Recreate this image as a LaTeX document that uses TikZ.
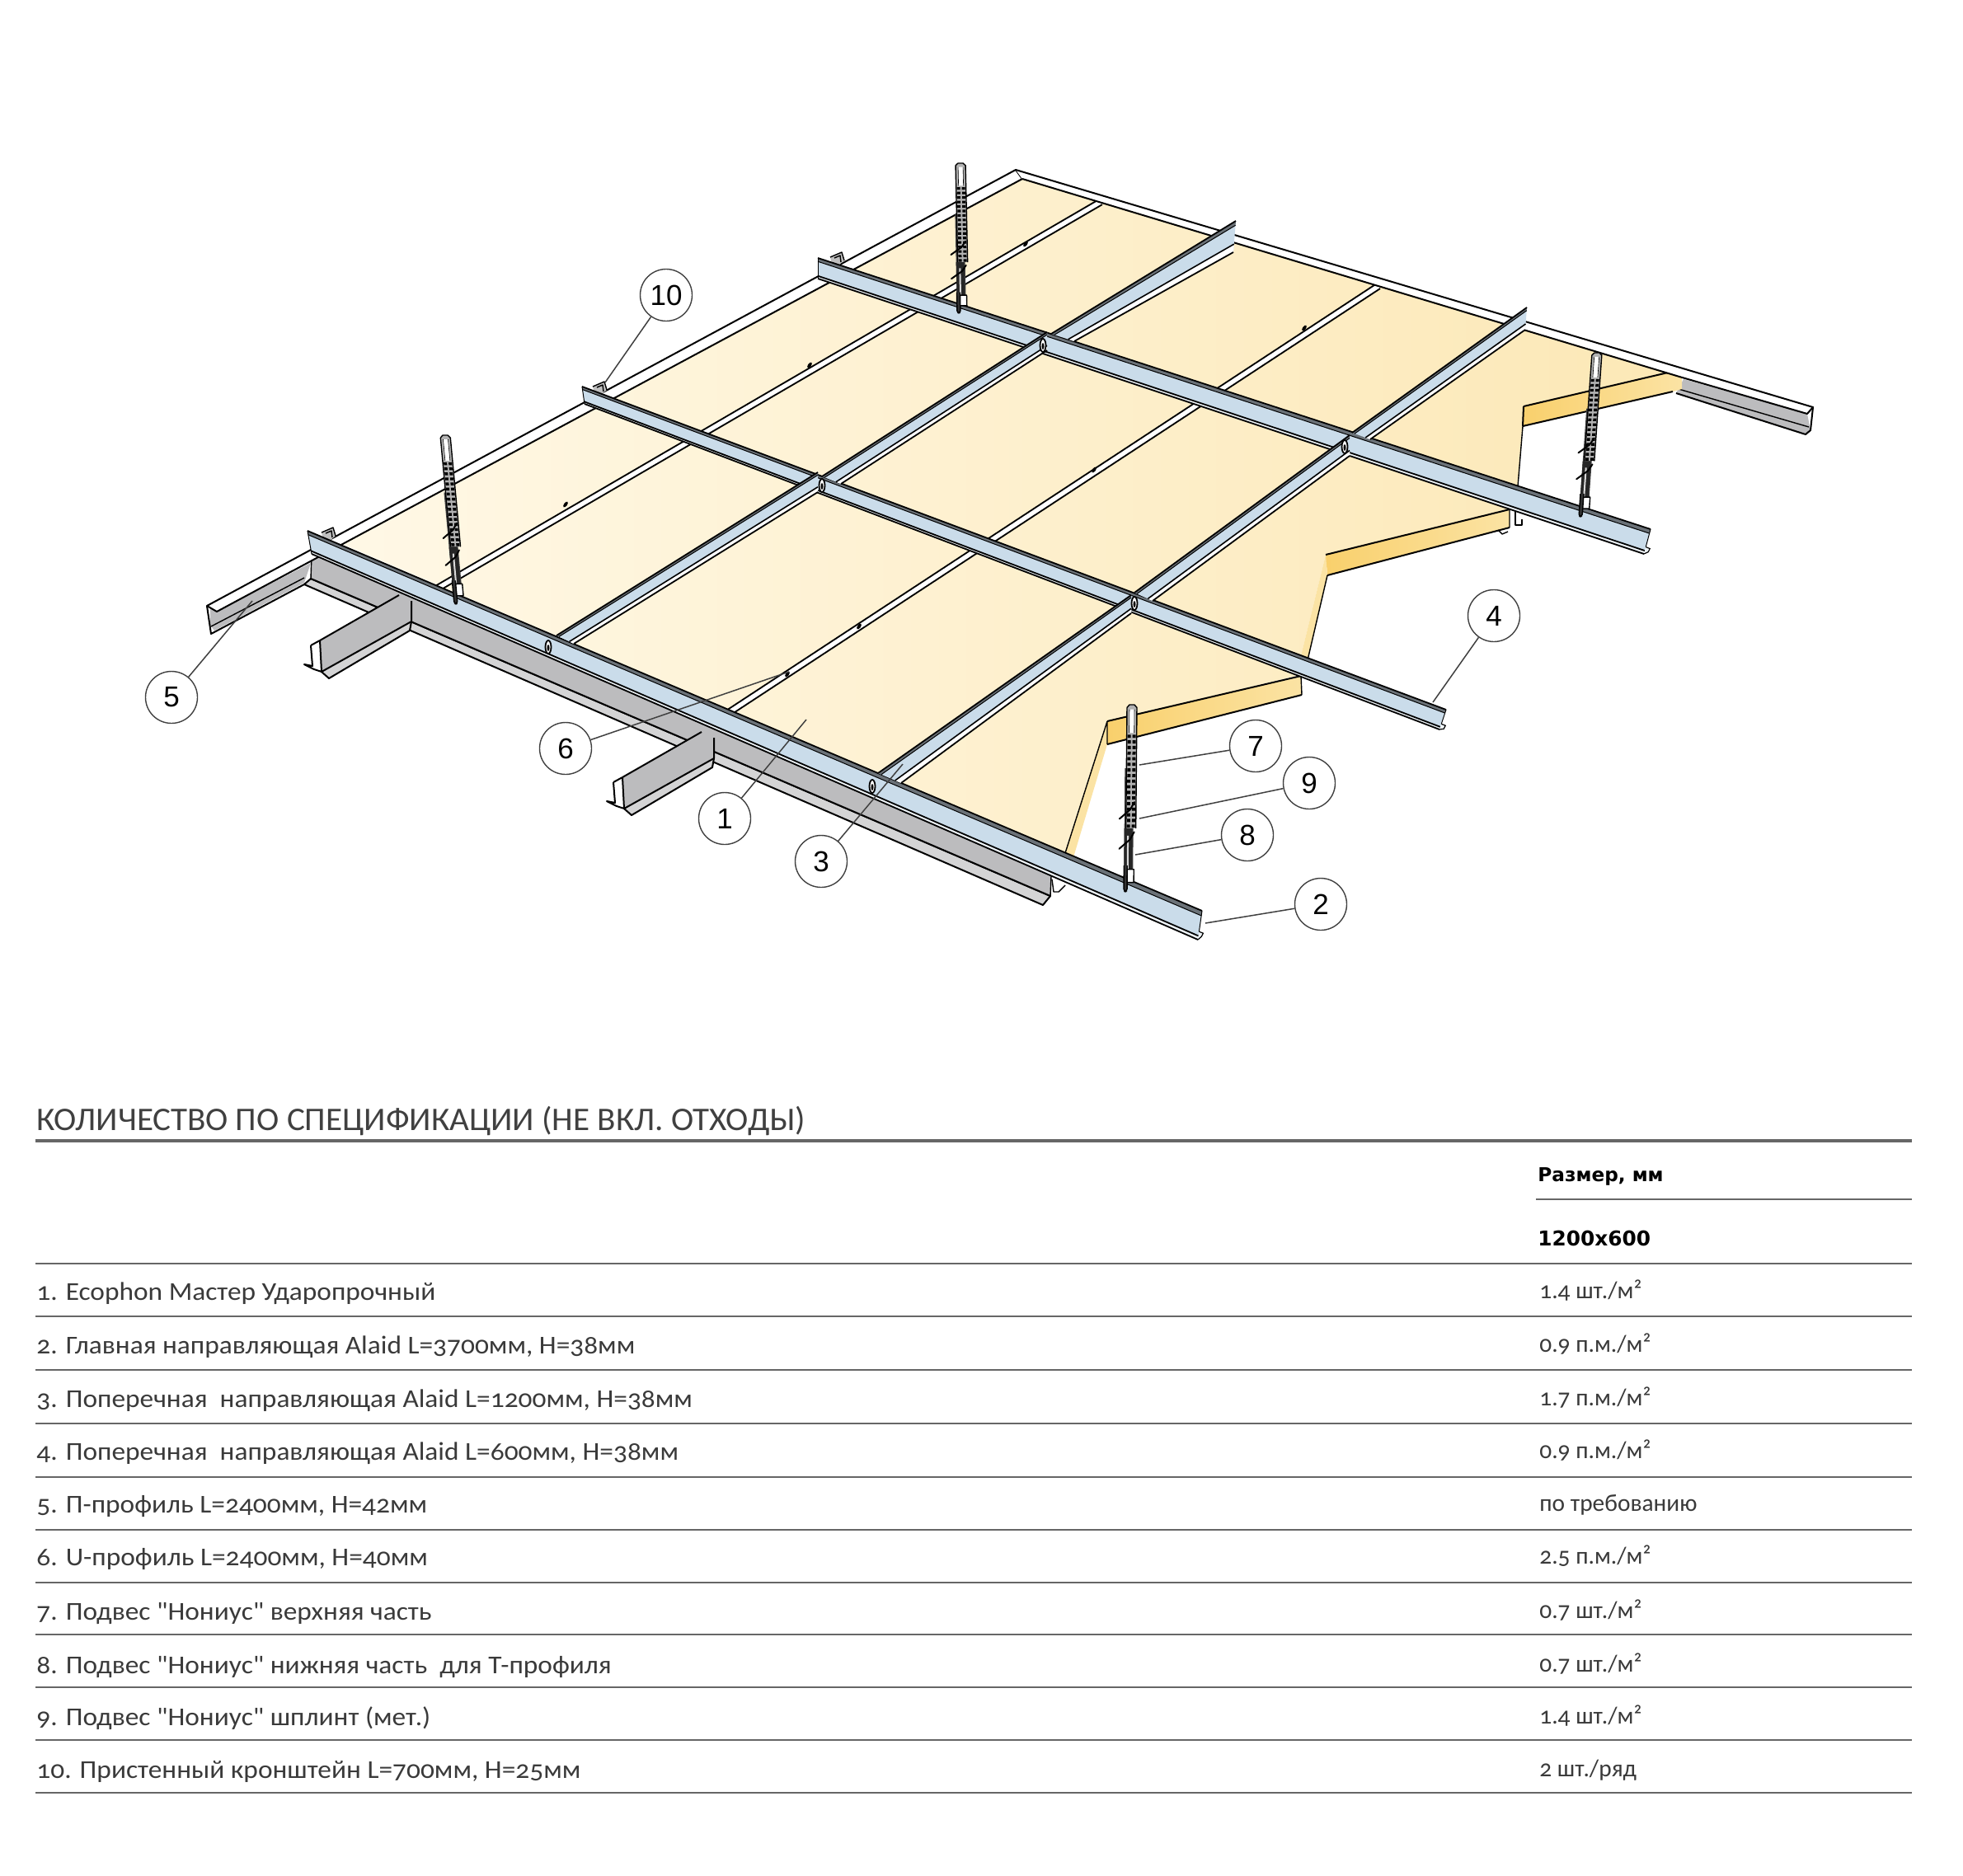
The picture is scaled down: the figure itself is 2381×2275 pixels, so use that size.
\documentclass[tikz,border=0pt]{standalone}
\usepackage{fontspec}
\usetikzlibrary{calc}
\setmainfont{Carlito}[Numbers=OldStyle]
\newfontfamily\tabfont{Carlito}[Numbers=OldStyle]
\newfontfamily\callfont{Liberation Sans}
\newfontfamily\headfont{DejaVu Sans}
\definecolor{creamL}{HTML}{FFF8E6}
\definecolor{creamR}{HTML}{FCE8B6}
\definecolor{sideA}{HTML}{F9D06C}
\definecolor{sideB}{HTML}{FBE3A4}
\definecolor{railblue}{HTML}{CADCEA}
\definecolor{railpale}{HTML}{EEF4F8}
\definecolor{raildark}{HTML}{6B7278}
\definecolor{steel}{HTML}{BCBCBE}
\definecolor{steellight}{HTML}{D4D4D5}
\definecolor{rulegrey}{HTML}{666666}
\definecolor{inkgrey}{HTML}{3A3A3A}
\definecolor{leadgrey}{HTML}{404040}
\tikzset{
  ln/.style={draw=black,line width=1pt,line join=round},
  thinln/.style={draw=black,line width=0.7pt,line join=round},
  leader/.style={draw=leadgrey,line width=0.75pt},
  callout/.style={circle,draw=leadgrey,line width=0.7pt,fill=white,minimum size=31.5pt,inner sep=0pt,
    font=\callfont\fontsize{17.5}{20}\selectfont,text=black},
  rowtext/.style={anchor=base west,inner sep=0pt,text=inkgrey,font=\tabfont\fontsize{15.6}{18}\selectfont},
  valtext/.style={anchor=base west,inner sep=0pt,text=inkgrey,font=\tabfont\fontsize{14.7}{17}\selectfont},
  headtext/.style={anchor=base west,inner sep=0pt,text=black,font=\headfont\bfseries\fontsize{11.6}{15}\selectfont},
  dimtext/.style={anchor=base west,inner sep=0pt,text=black,font=\headfont\bfseries\fontsize{12.4}{15}\selectfont},
  rulethin/.style={draw=rulegrey,line width=1.2pt},
  rulethick/.style={draw=rulegrey,line width=1.8pt},
}
\newcommand\barline[3]{\draw[draw=black,line width=#2] ($(ra)!#1!(rb)$) -- ($(rc)!#1!(rd)$);}
\newcommand\barband[3]{\fill[#3] ($(ra)!#1!(rb)$) -- ($(rc)!#1!(rd)$) -- ($(rc)!#2!(rd)$) -- ($(ra)!#2!(rb)$) -- cycle;}
\newcommand\mainrail[8]{%
  \coordinate (ra) at (#1,#2); \coordinate (rb) at (#3,#4);
  \coordinate (rc) at (#5,#6); \coordinate (rd) at (#7,#8);
  \fill[railblue] (ra)--(rc)--(rd)--(rb)--cycle;
  \barband{0}{0.17}{raildark}
  \barband{0.87}{1}{railpale}
  \barline{0}{0.9pt}{}
  \barline{0.17}{0.5pt}{}
  \barline{0.87}{0.9pt}{}
  \barline{1}{0.9pt}{}
  \draw[draw=black,line width=.5pt] (ra)--(rb);
  \draw[draw=black,line width=.5pt] (rc) -- ($(rc)!0.72!(rd)$);
  \fill[railpale] ($(rc)!0.72!(rd)$) -- ++(5,2) -- ++(-2,4) -- (rd) -- cycle;
  \draw[draw=black,line width=.6pt] ($(rc)!0.72!(rd)$) -- ++(5,2) -- ++(-2,4) -- (rd);
}
\newcommand\crossrail[8]{%
  \coordinate (ra) at (#1,#2); \coordinate (rb) at (#3,#4);
  \coordinate (rc) at (#5,#6); \coordinate (rd) at (#7,#8);
  \fill[railblue] (ra)--(rc)--(rd)--(rb)--cycle;
  \barband{0}{0.14}{raildark}
  \barband{0.74}{1}{white}
  \barline{0}{0.9pt}{}
  \barline{0.14}{0.5pt}{}
  \barline{0.74}{0.8pt}{}
  \barline{1}{0.9pt}{}
}
\newcommand\hangerdraw[4]{%
  \pgfmathsetmacro\hs{-(#3-#1)/(#4-#2)}%
  \pgfmathsetmacro\hc{(#4-#2)/200}%
  \begin{scope}[shift={(#1,#2)},xslant=\hs,yscale=\hc]
    \fill[black!75] (-8,68) rectangle (3,178);
    \fill[black!30] (-6,3) -- (-3,0) -- (3,0) -- (6,3) -- (6,132) -- (-6,132) -- cycle;
    \draw[thinln] (-6,3) -- (-3,0) -- (3,0) -- (6,3) -- (6,132) (-6,3) -- (-6,132);
    \fill[white] (-3,5) rectangle (3,30);
    \draw[draw=black,line width=.3pt] (-3,5) -- (-3,30) (3,5) -- (3,30);
    \foreach \hy in {32,38,...,128}{
      \fill[black] (-5,\hy) rectangle (-1,\hy+3.4);
      \fill[black] (1,\hy) rectangle (5,\hy+3.4);
    }
    \fill[black!85] (-8,132) rectangle (2,178);
    \fill[black!15] (-4.5,140) rectangle (-2.5,176);
    \draw[draw=black,line width=1pt,line cap=round] (4,104) -- (-1,112) -- (-14,122);
    \draw[draw=black,line width=1pt,line cap=round] (4,136) -- (-1,144) -- (-14,154);
    \fill[white] (-6,176) rectangle (4,190);
    \draw[thinln] (-6,176) rectangle (4,190);
    \fill[black!80] (-8,172) rectangle (-4,200);
    \draw[thinln] (-8,172) -- (-8,197) -- (-6,200) -- (-4,197) -- (-4,172);
  \end{scope}
}
\newcommand\hatprofile[2]{%
  \begin{scope}[shift={(#1,#2)}]
    \fill[steellight] (499,754) -- (497,765) -- (399,823) -- (390,815) -- cycle;
    \draw[ln] (499,754) -- (497,765) -- (399,823) -- (390,815);
    \fill[steel] (484,722) -- (499,729) -- (499,754) -- (390,815) -- (388,777) -- cycle;
    \draw[ln] (484,722) -- (388,777) (499,729) -- (499,754) -- (390,815);
    \fill[white] (377,783) -- (388,777) -- (390,815) -- (379,808) -- cycle;
    \draw[ln] (377,783) -- (388,777) (377,783) -- (379,808) -- (369,806) -- (381,812) -- (390,815) -- (388,777);
  \end{scope}
}
\newcommand\clipmark[2]{%
  \draw[draw=black,line width=.9pt,fill=white] (#1,#2) ellipse [x radius=3.5,y radius=8];
  \fill[black] (#1,#2+1) ellipse [x radius=1.5,y radius=4];
}
\newcommand\seamscrew[2]{%
  \fill[black,rotate around={-35:(#1,#2)}] (#1,#2) ellipse [x radius=2,y radius=4];
}
\begin{document}
\begin{tikzpicture}[x=0.5pt,y=-0.5pt]
\useasboundingbox (0,0) rectangle (2381,2275);
\fill[white] (0,0) rectangle (2381,2275);

% === grey channel below the front main rail ===
\fill[steellight] (377,702) -- (1274,1087) -- (1265,1098) -- (369,709) -- cycle;
\draw[ln] (377,702) -- (1274,1087) -- (1265,1098) -- (369,709) -- cycle;
\fill[steel] (378,672) -- (1275,1063) -- (1274,1087) -- (377,702) -- cycle;
\draw[ln] (377,702) -- (1274,1087);
\draw[thinln] (1275,1063) -- (1274,1087) (378,672) -- (377,702);
\hatprofile{0}{0}
\hatprofile{367}{166}

% === grey face of the wall angles ===
\fill[steel] (255,738) -- (263,742) -- (377,683) -- (369,707) -- (260,765) -- (255,758) -- cycle;
\draw[ln] (251,735) -- (256,769) -- (369,709);
\draw[thinln] (256,760) -- (369,701);
\fill[steel] (2042,460) -- (2192,502) -- (2196,522) -- (2190,527) -- (2033,477) -- cycle;
\draw[ln] (2199,494) -- (2196,522) -- (2190,527) -- (2033,477);
\draw[thinln] (2194,518) -- (2036,472);

% === ceiling panels ===
\shade[left color=creamL,right color=creamR]
  (415,660) -- (1240,217) -- (2030,455) -- (1848,493) -- (1841,590) -- (1831,618)
  -- (1608,673) -- (1572,820) -- (1343,875) -- (1292,1035) -- cycle;
% panel edge thickness
\shade[left color=sideA,right color=sideB] (1848,493) -- (2023,452) -- (2040,457) -- (2040,472) -- (2029,475) -- (1847,517) -- cycle;
\shade[left color=sideA,right color=sideB] (1831,618) -- (1831,640) -- (1610,698) -- (1608,673) -- cycle;
\shade[left color=sideA,right color=sideB] (1578,820) -- (1579,843) -- (1343,903) -- (1343,875) -- cycle;
\fill[sideB] (1608,673) -- (1610,698) -- (1582,820) -- (1572,820) -- cycle;
\fill[sideB] (1343,875) -- (1343,903) -- (1302,1040) -- (1292,1035) -- cycle;
\draw[ln] (2023,452) -- (1848,493) (1848,493) -- (1847,517);
\draw[thinln] (1847,517) -- (1841,590);
\draw[ln] (1847,517) -- (2029,475);
\draw[ln] (1831,618) -- (1608,673) (1831,640) -- (1610,698);
\draw[thinln] (1610,698) -- (1582,818);
\draw[ln] (1578,820) -- (1343,875) (1579,843) -- (1343,903);
\draw[thinln] (1343,875) -- (1292,1035) (1343,875) -- (1343,903);
\draw[thinln] (1831,618) -- (1831,640) (1578,820) -- (1579,843);

% === small brackets under the far ends ===
\fill[white] (1276,1067) -- (1292,1072) -- (1292,1082) -- (1278,1082) -- cycle;
\draw[thinln] (1276,1067) -- (1278,1082) -- (1284,1082) -- (1292,1074);
\draw[thinln] (1838,620) -- (1838,637) -- (1846,637) -- (1846,630);
\draw[thinln] (1817,643) -- (1822,648) -- (1829,645);

% === seams between the panels ===
\draw[draw=black,line width=4.6pt] (530,714) -- (1335,245);
\draw[draw=white,line width=2.6pt] (530,714) -- (1335,245);
\draw[draw=black,line width=4.6pt] (880,867) -- (1672,347);
\draw[draw=white,line width=2.6pt] (880,867) -- (1672,347);
\seamscrew{686}{612}
\seamscrew{982}{443}
\seamscrew{1244}{296}
\seamscrew{1042}{760}
\seamscrew{955}{818}
\seamscrew{1327}{570}
\seamscrew{1582}{398}

% === wall angles ===
\fill[white] (251,735) -- (1232,206) -- (1240,217) -- (263,742) -- cycle;
\draw[ln] (251,735) -- (1232,206) -- (1240,217) -- (263,742) -- cycle;
\fill[white] (1232,206) -- (2199,494) -- (2192,502) -- (2037,457) -- (1240,217) -- cycle;
\draw[ln] (1232,206) -- (2199,494) -- (2192,502) -- (2037,457) -- (1240,217);

% === wall brackets behind the rail ends ===
\foreach \bx/\by in {390/640,719/463,1007/306}{
  \fill[black!25,shift={(\bx,\by)}] (0,6) -- (14,0) -- (17,10) -- (10,16) -- (2,14) -- cycle;
  \draw[thinln,shift={(\bx,\by)}] (0,6) -- (14,0) -- (17,10) (5,7) -- (12,4) -- (13,12);
}

% === main rails ===
\mainrail{992}{313}{992}{338}{2002}{642}{1994}{672}
\mainrail{706}{469}{709}{490}{1754}{861}{1746}{885}
\mainrail{373}{644}{378}{672}{1458}{1105}{1453}{1140}

% === cross rails ===
\crossrail{675}{771}{696}{781}{992}{573}{992}{597}
\crossrail{997}{578}{1020}{587}{1270}{403}{1270}{425}
\crossrail{1275}{405}{1303}{414}{1499}{268}{1496}{306}
\crossrail{1065}{938}{1093}{950}{1372}{722}{1372}{744}
\crossrail{1376}{719}{1398}{729}{1637}{528}{1637}{553}
\crossrail{1640}{525}{1662}{533}{1852}{373}{1850}{400}

% === clips ===
\clipmark{665}{785}
\clipmark{1058}{954}
\clipmark{997}{589}
\clipmark{1376}{732}
\clipmark{1265}{419}
\clipmark{1631}{542}

% === hangers ===
\hangerdraw{540}{528}{559}{733}
\hangerdraw{1165}{198}{1169}{380}
\hangerdraw{1937}{428}{1923}{627}
\hangerdraw{1373}{855}{1371}{1082}

% === callouts ===
\node[callout] (n10) at (808,358) {10};
\node[callout] (n5) at (208,846) {5};
\node[callout] (n6) at (686,908) {6};
\node[callout] (n1) at (879,993) {1};
\node[callout] (n3) at (996,1045) {3};
\node[callout] (n4) at (1812,747) {4};
\node[callout] (n7) at (1523,905) {7};
\node[callout] (n9) at (1588,950) {9};
\node[callout] (n8) at (1513,1013) {8};
\node[callout] (n2) at (1602,1097) {2};
\coordinate (e10) at (734,464);
\coordinate (e5) at (306,729);
\coordinate (e6) at (957,815);
\coordinate (e1) at (978,873);
\coordinate (e3) at (1095,927);
\coordinate (e4) at (1738,852);
\coordinate (e7) at (1382,928);
\coordinate (e9) at (1382,993);
\coordinate (e8) at (1377,1037);
\coordinate (e2) at (1462,1120);
\foreach \k in {10,5,6,1,3,4,7,9,8,2}{
  \draw[leader] (n\k) -- (e\k);
}

% === table ===
\node[anchor=base west,inner sep=0pt,text=black!75] (ttl) at (44,1371)
  {\scalebox{1.027}[1]{\tabfont\fontsize{20}{24}\selectfont КОЛИЧЕСТВО ПО СПЕЦИФИКАЦИИ (НЕ ВКЛ. ОТХОДЫ)}};
\draw[rulethick] (43,1384) -- (2319,1384);
\node[headtext] (hsize) at (1865,1433) {Размер, мм};
\draw[rulethin] (1863,1455) -- (2319,1455);
\node[dimtext] (hdim) at (1865,1511) {1200x600};
\draw[rulethin] (43,1533) -- (2319,1533);
\foreach \i/\yy/\bl/\lefttxt/\righttxt in {
  1/1597/1577/{1. Ecophon Мастер Ударопрочный}/{1.4 шт./м²},
  2/1662/1642/{2. Главная направляющая Alaid L=3700мм, H=38мм}/{0.9 п.м./м²},
  3/1727/1707/{3. Поперечная\ \ направляющая Alaid L=1200мм, H=38мм}/{1.7 п.м./м²},
  4/1792/1771/{4. Поперечная\ \ направляющая Alaid L=600мм, H=38мм}/{0.9 п.м./м²},
  5/1856/1835/{5. П-профиль L=2400мм, H=42мм}/{по требованию},
  6/1920/1899/{6. U-профиль L=2400мм, H=40мм}/{2.5 п.м./м²},
  7/1983/1965/{7. Подвес "Нониус" верхняя часть}/{0.7 шт./м²},
  8/2047/2030/{8. Подвес "Нониус" нижняя часть\ \ для Т-профиля}/{0.7 шт./м²},
  9/2111/2093/{9. Подвес "Нониус" шплинт (мет.)}/{1.4 шт./м²},
  10/2175/2157/{10. Пристенный кронштейн L=700мм, H=25мм}/{2 шт./ряд}}{
  \draw[rulethin] (43,\yy) -- (2319,\yy);
  \node[rowtext] (rowl\i) at (44,\bl) {\scalebox{1.07}[1]{\lefttxt}};
  \node[valtext] (rowr\i) at (1867,\bl-2) {\righttxt};
}
\end{tikzpicture}
\end{document}
